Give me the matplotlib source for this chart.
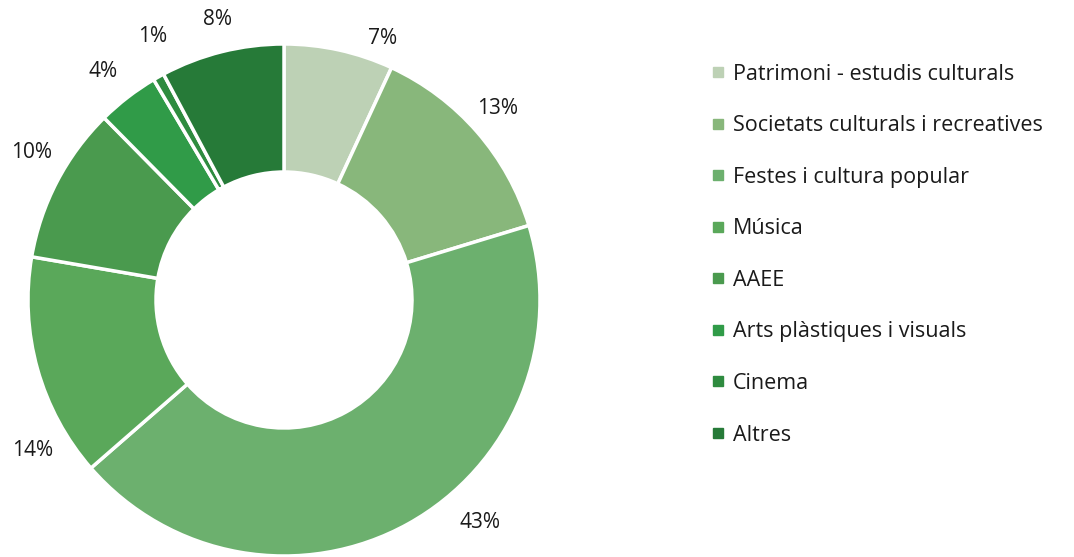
import numpy as np
import matplotlib.pyplot as plt
from matplotlib.lines import Line2D

categories = ["Patrimoni - estudis culturals", "Societats culturals i recreatives",
              "Festes i cultura popular", "Música", "AAEE",
              "Arts plàstiques i visuals", "Cinema", "Altres"]
values = [6.9, 13.4, 43.3, 14.1, 9.9, 3.9, 0.7, 7.8]
colors = ["#bdd1b5", "#88b77b", "#6cb06e", "#5aa85a", "#4a9a4e",
          "#309b48", "#2e8b3f", "#267a38"]
# label placement (angle in degrees, radius)
label_angle = [69.3, 41.9, -48.6, 210.8, 149.6, 128.4, 116.5, 103.3]
label_radius = [1.094, 1.123, 1.157, 1.145, 1.142, 1.137, 1.148, 1.124]

plt.rcParams['font.family'] = ['Open Sans', 'DejaVu Sans']

fig = plt.figure(figsize=(10.74, 5.57), dpi=100)
ax = fig.add_axes([28 / 1074, 1 / 557, 512 / 1074, 512 / 557])

wedges, texts = ax.pie(values, colors=colors, startangle=90, counterclock=False, radius=1.0,
                       wedgeprops=dict(width=0.5, edgecolor='white', linewidth=2.5))
total = sum(values)
for v, a, r in zip(values, label_angle, label_radius):
    t = np.deg2rad(a)
    ax.text(r * np.cos(t), r * np.sin(t), f"{100 * v / total:.0f}%", ha='center', va='center',
            fontsize=15, color='#1a1a1a')
ax.set_xlim(-1, 1)
ax.set_ylim(-1, 1)
ax.set_aspect('equal')

handles = [Line2D([], [], marker='s', linestyle='', markersize=7.5, color=c) for c in colors]
fig.legend(handles, categories, loc='upper left', bbox_to_anchor=(699 / 1074, 1 - 55 / 557),
           frameon=False, fontsize=15.5, handletextpad=0.18, labelspacing=1.42,
           handlelength=1.0, borderaxespad=0, labelcolor='#1a1a1a')

fig.savefig("out.png", dpi=100)
